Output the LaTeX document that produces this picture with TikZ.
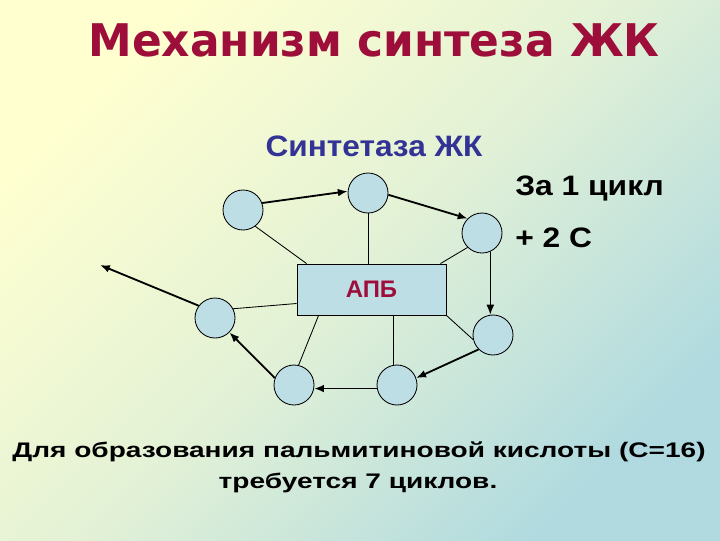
\documentclass[tikz,border=0pt]{standalone}
\usepackage{fontspec}
\setmainfont{Liberation Sans}
\newfontfamily\titlefont{DejaVu Sans}
\usetikzlibrary{arrows.meta, calc}
\definecolor{titlered}{RGB}{158,14,58}
\definecolor{synthblue}{RGB}{51,51,150}
\definecolor{ballblue}{RGB}{190,222,230}
\definecolor{bgyellow}{RGB}{255,255,208}
\definecolor{bgmid}{RGB}{226,241,214}
\definecolor{bgcyan}{RGB}{176,218,224}

\begin{document}
\begin{tikzpicture}[x=0.025cm, y=-0.025cm,
		ball/.style={circle, draw, fill=ballblue, minimum size=1cm, inner sep=0pt, line width=0.6pt},
		move/.style={-{Latex[length=7pt, width=5.5pt]}, line width=1.3pt},
		link/.style={line width=0.6pt},
		label text/.style={inner sep=0pt, font=\bfseries\fontsize{20}{24}\selectfont}]
			\shade[top color=bgyellow, bottom color=bgcyan, middle color=bgmid, shading angle=45] (0,0) rectangle (720,540);

			\node[titlered, inner sep=0pt, anchor=base, xscale=0.975, font=\titlefont\bfseries\fontsize{32}{38}\selectfont] (title) at (374,56) {Механизм синтеза ЖК};
			\node[label text, synthblue, anchor=base, xscale=1.07, font=\bfseries\fontsize{21}{25}\selectfont] (synth) at (374,156) {Синтетаза ЖК};
			\node[label text, anchor=base west, xscale=1.13] (cycle) at (515,195) {За 1 цикл};
			\node[label text, anchor=base west, xscale=1.13] (gain) at (515,247) {+ 2 С};

			\node[draw, fill=ballblue, line width=0.6pt, minimum width=3.725cm, minimum height=1.275cm, inner sep=0pt,
				text=titlered, font=\bfseries\fontsize{17}{20}\selectfont] (apb) at (371.5,289.5) {АПБ};

			\node[ball] (c1) at (243,210) {};
			\node[ball] (c2) at (368,193) {};
			\node[ball] (c3) at (482,233) {};
			\node[ball] (c4) at (493,335) {};
			\node[ball] (c5) at (397,385) {};
			\node[ball] (c6) at (294,385) {};
			\node[ball] (c7) at (215,318) {};
			\coordinate (out) at (100,265);

			\draw[link] (c1.307) -- ($(apb.north west)+(10,0)$);
			\draw[link] (c2.south) -- (c2.south |- apb.north);
			\draw[link] (c3.225) -- ($(apb.north east)+(-6,0)$);
			\draw[link] (apb.south east) -- (c4.193);
			\draw[link] (c5.99) -- (c5.99 |- apb.south);
			\draw[link] (c6.77) -- ($(apb.south west)+(22,0)$);
			\draw[link] (c7.27) -- ($(apb.west)+(0,14)$);

			\draw[move] (c1.20) -- (c2.175);
			\draw[move] (c2.355) -- (c3.135);
			\draw[move, line width=0.7pt] (c3.294) -- (c3.294 |- c4.north);
			\draw[move] (c4.225) -- (c5.20);
			\draw[move] (c5.190) -- (c6.350);
			\draw[move] (c6.160) -- (c7.315);
			\draw[move] (c7.143) -- (out);

			\node[label text, anchor=base, font=\bfseries\fontsize{15}{18}\selectfont, xscale=1.33] (note1) at (359,457) {Для образования пальмитиновой кислоты (С=16)};
			\node[label text, anchor=base, font=\bfseries\fontsize{15}{18}\selectfont, xscale=1.33] (note2) at (358,488) {требуется 7 циклов.};
\end{tikzpicture}
\end{document}
